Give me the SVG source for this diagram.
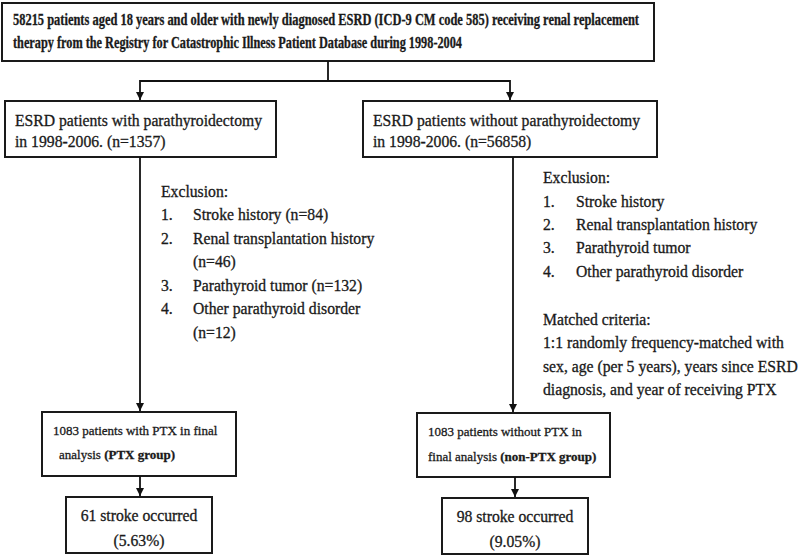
<svg xmlns="http://www.w3.org/2000/svg" width="800" height="555" viewBox="0 0 800 555">
<defs>
<marker id="ah" markerUnits="userSpaceOnUse" markerWidth="9" markerHeight="9" refX="8" refY="4.5" orient="auto">
<path d="M0,0.5 L8,4.5 L0,8.5 z" fill="#111"/>
</marker>
<style>
.box{fill:#fff;stroke:#1a1a1a;stroke-width:2}
.t{font-family:"Liberation Serif","Times New Roman",serif;font-size:15.7px;fill:#1a1a1a;stroke:#1a1a1a;stroke-width:0.3}
.s{font-size:13px}
.b{font-weight:bold}
.ln{fill:none;stroke:#111;stroke-width:1.8}
</style>
</defs>
<rect width="800" height="555" fill="#fff"/>
<g id="top">
<rect class="box" x="2" y="3" width="652" height="58"/>
<text class="t b" x="13" y="25" font-size="14.5" textLength="626" lengthAdjust="spacingAndGlyphs">58215 patients aged 18 years and older with newly diagnosed ESRD (ICD-9 CM code 585) receiving renal replacement</text>
<text class="t b" x="13" y="48" font-size="14.5" textLength="449" lengthAdjust="spacingAndGlyphs">therapy from the Registry for Catastrophic Illness Patient Database during 1998-2004</text>
</g>
<g id="ptxAll">
<rect class="box" x="5" y="101" width="271" height="56"/>
<text class="t" x="15" y="125.5">ESRD patients with parathyroidectomy</text>
<text class="t" x="15" y="147">in 1998-2006. (n=1357)</text>
</g>
<g id="nonPtxAll">
<rect class="box" x="363" y="101" width="294" height="56"/>
<text class="t" x="373" y="125.5">ESRD patients without parathyroidectomy</text>
<text class="t" x="373" y="147">in 1998-2006. (n=56858)</text>
</g>
<g id="exclLeft">
<text class="t" x="161" y="197">Exclusion:</text>
<text class="t" x="161" y="220">1.</text><text class="t" x="193" y="220">Stroke history (n=84)</text>
<text class="t" x="161" y="244">2.</text><text class="t" x="193" y="244">Renal transplantation history</text>
<text class="t" x="193" y="267">(n=46)</text>
<text class="t" x="161" y="291">3.</text><text class="t" x="193" y="291">Parathyroid tumor (n=132)</text>
<text class="t" x="161" y="314">4.</text><text class="t" x="193" y="314">Other parathyroid disorder</text>
<text class="t" x="193" y="338">(n=12)</text>
</g>
<g id="exclRight">
<text class="t" x="543" y="183">Exclusion:</text>
<text class="t" x="543" y="206.5">1.</text><text class="t" x="576" y="206.5">Stroke history</text>
<text class="t" x="543" y="230">2.</text><text class="t" x="576" y="230">Renal transplantation history</text>
<text class="t" x="543" y="253.3">3.</text><text class="t" x="576" y="253.3">Parathyroid tumor</text>
<text class="t" x="543" y="276.6">4.</text><text class="t" x="576" y="276.6">Other parathyroid disorder</text>
<text class="t" x="543" y="324.5">Matched criteria:</text>
<text class="t" x="543" y="348">1:1 randomly frequency-matched with</text>
<text class="t" x="543" y="371.5">sex, age (per 5 years), years since ESRD</text>
<text class="t" x="543" y="395">diagnosis, and year of receiving PTX</text>
</g>
<g id="ptxFinal">
<rect class="box" x="42" y="412" width="194" height="64"/>
<text class="t s" x="53" y="435">1083 patients with PTX in final</text>
<text class="t s" x="59" y="459">analysis <tspan class="b">(PTX group)</tspan></text>
</g>
<g id="nonPtxFinal">
<rect class="box" x="417" y="413" width="193" height="64"/>
<text class="t s" x="428" y="436">1083 patients without PTX in</text>
<text class="t s" x="428" y="461">final analysis <tspan class="b">(non-PTX group)</tspan></text>
</g>
<g id="strokePtx">
<rect class="box" x="66" y="497" width="146" height="56"/>
<text class="t" x="139" y="521" text-anchor="middle">61 stroke occurred</text>
<text class="t" x="139" y="546" text-anchor="middle">(5.63%)</text>
</g>
<g id="strokeNonPtx">
<rect class="box" x="442" y="498" width="146" height="56"/>
<text class="t" x="515" y="522" text-anchor="middle">98 stroke occurred</text>
<text class="t" x="515" y="547" text-anchor="middle">(9.05%)</text>
</g>
<g id="connectors">
<path class="ln" d="M328,61 V81"/>
<path class="ln" d="M328,81 H140 V100" marker-end="url(#ah)"/>
<path class="ln" d="M328,81 H510 V100" marker-end="url(#ah)"/>
<path class="ln" d="M140,157 V411" marker-end="url(#ah)"/>
<path class="ln" d="M513,157 V412" marker-end="url(#ah)"/>
<path class="ln" d="M140,476 V496" marker-end="url(#ah)"/>
<path class="ln" d="M515,477 V497" marker-end="url(#ah)"/>
</g>
</svg>
